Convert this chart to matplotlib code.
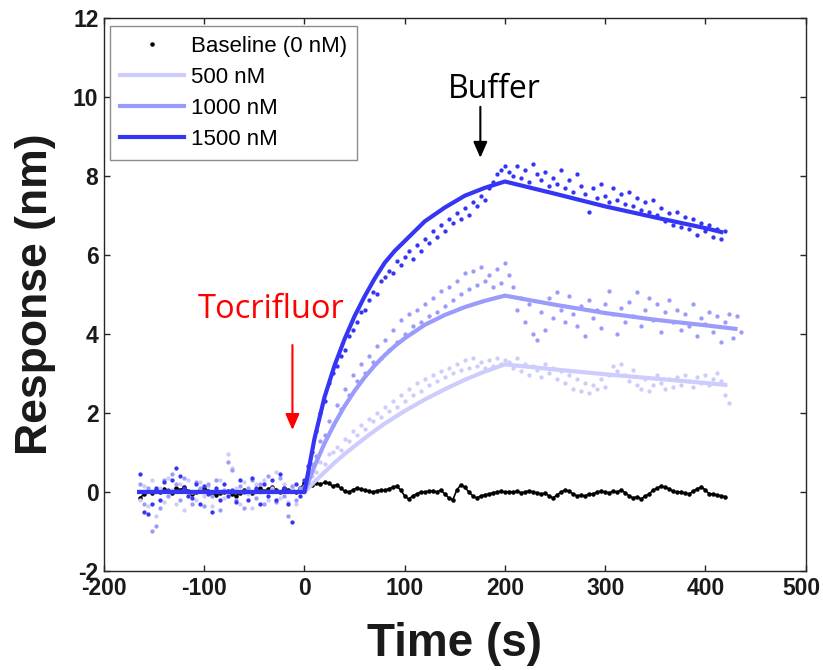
import numpy as np
import matplotlib
matplotlib.use("Agg")
import matplotlib.pyplot as plt
from matplotlib.transforms import ScaledTranslation

# ---------------- data ----------------
# sampled every 4 s
baseline_pre = [-0.15, -0.05, 0.02, -0.03, 0.05, 0.0, 0.08, 0.03, -0.02, 0.1,
                0.05, 0.12, 0.02, -0.05, 0.0, 0.06, 0.1, 0.03, -0.04, -0.08,
                -0.02, 0.0, 0.03, -0.05, -0.1, -0.02, 0.04, 0.0, -0.03, 0.05,
                0.1, 0.02, 0.08, 0.12, 0.05, 0.0, 0.1, 0.04, 0.06, 0.0,
                0.1, 0.22]                       # t = -164 .. 0
baseline_post = [0.2, 0.18, 0.22,
                 0.2, 0.24, 0.22, 0.15, 0.18,
                 0.1, 0.02, 0.0, 0.05, 0.1, 0.08, 0.05,
                 0.02, 0.0, 0.03, 0.05, 0.04, 0.08, 0.12, 0.15,
                 0.05, -0.1, -0.18, -0.1, -0.05, 0.0,
                 0.0, 0.02, 0.03, 0.0, 0.05, -0.05, -0.15, -0.2,
                 0.05, 0.18, 0.12, 0.0, -0.1, -0.15,
                 -0.1, -0.07, -0.05, -0.02, 0.0, 0.02, 0.0, 0.01,
                 0.0, 0.02, -0.02, 0.0, 0.03, 0.0, -0.02, -0.05, -0.03,
                 -0.1, -0.15, -0.08, 0.0, 0.05, 0.02, -0.05, -0.1,
                 -0.08, -0.1, -0.05, -0.05, 0.0, 0.02, 0.0, -0.02,
                 0.02, 0.0, 0.05, -0.02, -0.1, -0.15, -0.12, -0.18, -0.1,
                 -0.05, 0.05, 0.1, 0.15, 0.12, 0.08, 0.02, 0.0,
                 0.0, -0.03, -0.05, 0.02, 0.08, 0.13, 0.05, -0.05, -0.05, -0.08, -0.1, -0.12]  # t = 4 .. 420

r1500 = [0.45, -0.5, -0.55, -0.3, 0.1, -0.2, 0.25, 0.05, 0.3, 0.6,
         0.4, 0.1, -0.1, -0.15, 0.2, -0.3, 0.15, -0.05, -0.5, 0.1,
         -0.2, 0.2, -0.1, 0.05, -0.25, 0.3, 0.0, -0.2, 0.35, 0.1,
         -0.3, 0.2, -0.1, 0.3, -0.2, 0.45, 0.1, -0.3, -0.75, 0.2,
         -0.1, 0.3,
         0.65, 1.0, 1.55, 2.0, 2.3, 2.75, 3.0, 3.2, 3.45, 3.6,
         3.95, 4.1, 4.3, 4.55, 4.6, 4.85, 5.05, 5.0, 5.35, 5.45,
         5.6, 5.55, 5.85, 5.75, 5.95, 6.1, 5.9, 6.25, 6.1, 6.4,
         6.3, 6.6, 6.45, 6.75, 6.6, 6.9, 6.8, 7.05, 6.9, 7.2,
         7.0, 7.35, 7.25, 7.5, 7.4, 7.7, 7.85, 8.05, 8.15, 8.25,
         8.1, 8.0, 8.25, 7.95, 8.15, 7.85, 8.3, 8.05, 7.9, 8.1,
         7.75, 7.95, 7.8, 8.15, 7.7, 7.9, 7.6, 8.05, 7.75, 7.55,
         7.1, 7.7, 7.45, 7.8, 7.5, 7.35, 7.7, 7.4, 7.55, 7.3,
         7.6, 7.25, 7.45, 7.15, 7.35, 7.1, 7.4, 7.0, 7.2, 6.85,
         7.05, 6.75, 7.1, 6.7, 6.95, 6.65, 6.9, 6.5, 6.8, 6.6,
         6.75, 6.45, 6.65, 6.4, 6.6]               # t = -164 .. 420

r1000 = [0.2, -0.3, 0.1, -1.0, -0.85, -0.4, 0.3, -0.1, 0.45, 0.2,
         -0.2, 0.35, 0.0, -0.3, 0.25, 0.1, -0.35, 0.2, -0.1, 0.3,
         -0.45, 0.05, 0.75, 0.55, -0.2, 0.15, -0.4, 0.1, 0.3, -0.15,
         0.2, -0.3, 0.4, 0.05, -0.25, 0.35, -0.1, -0.6, 0.15, -0.2,
         0.1, 0.15,
         0.35, 0.7, 0.9, 1.3, 1.45, 1.8, 1.7, 2.2, 2.1, 2.6,
         2.45, 2.95, 2.8, 3.25, 3.0, 3.45, 3.3, 3.7, 3.4, 3.85,
         3.6, 4.1, 3.8, 4.35, 4.0, 4.5, 4.2, 4.6, 4.3, 4.75,
         4.45, 4.9, 4.55, 5.1, 4.7, 5.2, 4.85, 5.35, 5.0, 5.55,
         5.15, 5.6, 5.25, 5.7, 5.35, 5.5, 5.2, 5.65, 5.3, 5.8,
         5.5, 5.2, 4.6, 4.9, 4.3, 4.75, 4.0, 3.85, 4.55, 4.1,
         4.9, 4.4, 5.05, 4.6, 4.3, 4.95, 4.5, 4.2, 4.7, 3.95,
         4.85, 4.4, 4.6, 4.15, 4.75, 5.1, 4.5, 4.0, 4.65, 4.3,
         4.8, 4.45, 5.05, 4.2, 4.6, 4.9, 4.35, 4.75, 4.05, 4.55,
         4.85, 4.3, 4.6, 4.1, 4.5, 4.2, 4.75, 3.95, 4.4, 4.25,
         4.55, 4.05, 4.45, 3.8, 4.3, 4.5, 3.9, 4.45, 4.05]   # t = -164 .. 436

r500 = [-0.2, 0.15, -0.35, 0.3, -0.6, 0.1, -0.25, 0.35, 0.05, -0.3,
        0.2, -0.45, 0.3, 0.0, -0.2, 0.25, -0.1, 0.15, -0.35, 0.05,
        0.3, -0.15, 0.95, 0.6, 0.1, -0.3, 0.25, -0.05, -0.4, 0.2,
        0.0, 0.3, -0.2, 0.1, 0.5, -0.15, 0.2, -0.25, 0.1, -0.3,
        0.05, 0.0,
        0.15, 0.4, 0.5, 0.75, 0.7, 0.95, 1.0, 1.15, 1.05, 1.35,
        1.3, 1.55, 1.45, 1.7, 1.6, 1.85, 1.8, 2.0, 1.9, 2.15,
        2.05, 2.3, 2.15, 2.45, 2.3, 2.6, 2.45, 2.75, 2.55, 2.85,
        2.7, 2.95, 2.8, 3.05, 2.9, 3.15, 3.0, 3.25, 3.1, 3.35,
        3.15, 3.4, 3.2, 3.3, 3.15, 3.35, 3.2, 3.4, 3.25, 3.35,
        3.3, 3.15, 3.4, 3.05, 3.25, 2.95, 3.2, 3.1, 2.9, 3.25,
        3.0, 3.15, 2.85, 3.05, 2.75, 2.95, 2.6, 2.85, 2.55, 2.75,
        2.5, 2.7, 2.6, 2.85, 2.65, 2.95, 3.2, 3.05, 3.25, 2.95,
        2.8, 3.1, 2.7, 2.6, 2.85, 2.55, 2.7, 2.95, 2.75, 2.6,
        2.85, 2.65, 2.9, 2.7, 2.95, 2.8, 2.65, 2.9, 2.75, 2.95,
        2.7, 2.85, 3.0, 2.8, 2.45, 2.25]         # t = -164 .. 424

# fitted curves
fit1500_t = [-165, 0, 10, 20, 30, 40, 50, 60, 70, 80, 90, 100, 120, 140, 160, 180, 200, 250, 300, 350, 400, 416]
fit1500_y = [0, 0, 1.35, 2.4, 3.2, 3.87, 4.45, 4.95, 5.4, 5.8, 6.1, 6.35, 6.85, 7.2, 7.5, 7.7, 7.86, 7.55, 7.23, 6.95, 6.68, 6.58]
fit1000_t = [-165, 0, 10, 20, 30, 40, 50, 60, 70, 80, 90, 100, 120, 140, 160, 180, 200, 250, 300, 350, 400, 430]
fit1000_y = [0, 0, 0.65, 1.23, 1.73, 2.17, 2.56, 2.90, 3.20, 3.46, 3.69, 3.89, 4.23, 4.48, 4.68, 4.84, 4.97, 4.74, 4.53, 4.36, 4.22, 4.13]
fit500_t = [-165, 0, 10, 20, 30, 40, 50, 60, 70, 80, 90, 100, 120, 140, 160, 180, 200, 250, 300, 350, 400, 420]
fit500_y = [0, 0, 0.26, 0.50, 0.74, 0.96, 1.16, 1.36, 1.55, 1.73, 1.89, 2.05, 2.34, 2.60, 2.84, 3.05, 3.23, 3.10, 2.98, 2.87, 2.76, 2.71]

labels = ["Baseline (0 nM)", "500 nM", "1000 nM", "1500 nM"]
xticks = [-200, -100, 0, 100, 200, 300, 400, 500]
yticks = [-2, 0, 2, 4, 6, 8, 10, 12]

# ---------------- plot ----------------
c500, c1000, c1500 = "#cdcdfd", "#9b9bfb", "#3535f5"

fig = plt.figure(figsize=(8.23, 6.70), dpi=100)
ax = fig.add_axes([0.1264, 0.1478, 0.8524, 0.8254])

t_base = np.concatenate([-164 + 4 * np.arange(len(baseline_pre)), 4 + 4 * np.arange(len(baseline_post))])
y_base = np.array(baseline_pre + baseline_post)
t1500 = -164 + 4 * np.arange(len(r1500))
t1000 = -164 + 4 * np.arange(len(r1000))
t500 = -164 + 4 * np.arange(len(r500))

ax.plot(t_base, y_base, color="black", lw=1.2, zorder=2)
hb, = ax.plot(t_base, y_base, ".", color="black", ms=4.5, zorder=2, label=labels[0])

ax.plot(t500, r500, "o", color=c500, ms=3.1, mec="none", zorder=3)
h5, = ax.plot(fit500_t, fit500_y, "-", color=c500, lw=3, zorder=4, label=labels[1])
ax.plot(t1000, r1000, "o", color=c1000, ms=3.1, mec="none", zorder=5)
h10, = ax.plot(fit1000_t, fit1000_y, "-", color=c1000, lw=3, zorder=6, label=labels[2])
ax.plot(t1500, r1500, "o", color=c1500, ms=3.1, mec="none", zorder=7)
h15, = ax.plot(fit1500_t, fit1500_y, "-", color=c1500, lw=3, zorder=8, label=labels[3])

ax.set_xlim(-200, 500)
ax.set_ylim(-2, 12)
ax.set_xticks(xticks)
ax.set_yticks(yticks)

tickfont = dict(family=["Liberation Sans"], weight="bold", size=16.5)
ax.set_xticklabels([str(v) for v in xticks], fontdict=tickfont)
ax.set_yticklabels([str(v) for v in yticks], fontdict=tickfont)
ax.tick_params(direction="in", length=4, width=1, top=True, right=True, colors="#262626",
               labelcolor="#1a1a1a", pad=4)
xl = ax.get_xticklabels()
xl[-1].set_horizontalalignment("right")
xl[-1].set_transform(xl[-1].get_transform() + ScaledTranslation(15 / 100, 0, fig.dpi_scale_trans))
for s in ax.spines.values():
    s.set_color("#262626")
    s.set_linewidth(1.0)

ax.set_xlabel("Time (s)", family=["Liberation Sans"], weight="bold",
              size=33, color="#1a1a1a", labelpad=16)
ax.set_ylabel("Response (nm)", family=["Liberation Sans"], weight="bold", size=32,
              color="#1a1a1a", labelpad=12)

leg = ax.legend(handles=[hb, h5, h10, h15], loc="upper left", bbox_to_anchor=(0.0085, 0.9855),
                borderaxespad=0, fancybox=False, edgecolor="#8c8c8c", framealpha=1,
                prop=dict(family=["Liberation Sans"], size=16), handlelength=2.9,
                handletextpad=0.3, labelspacing=0.45, borderpad=0.45, markerscale=1.0)
leg.get_frame().set_linewidth(1.0)

# annotations
ax.text(189, 9.97, "Buffer", family=["Open Sans"], size=23, color="black", ha="center", va="baseline")
ax.annotate("", xy=(175.5, 8.46), xytext=(175.5, 9.75),
            arrowprops=dict(arrowstyle="-|>,head_length=0.8,head_width=0.35", color="black",
                            lw=1.5, mutation_scale=12, shrinkA=0, shrinkB=0))
ax.text(-33, 4.41, "Tocrifluor", family=["Open Sans"], size=23.5, color="#ff0000", ha="center", va="baseline")
ax.annotate("", xy=(-12, 1.57), xytext=(-12, 3.72),
            arrowprops=dict(arrowstyle="-|>,head_length=0.8,head_width=0.35", color="#ff0000",
                            lw=1.5, mutation_scale=12, shrinkA=0, shrinkB=0))

fig.savefig("out.png", dpi=100)
